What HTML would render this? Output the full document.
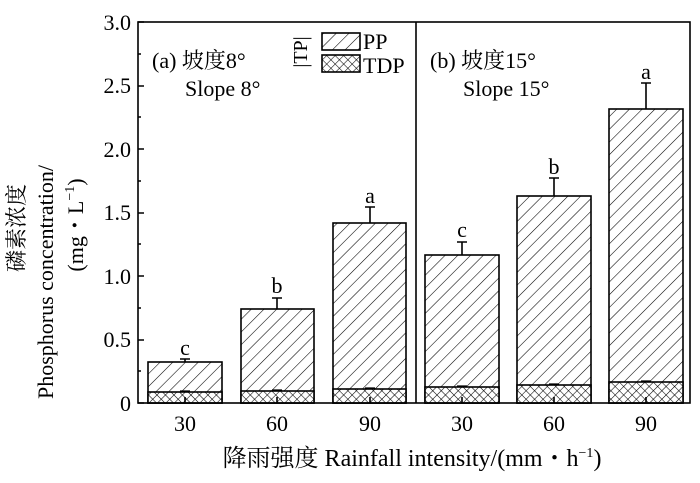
<!DOCTYPE html>
<html><head><meta charset="utf-8"><style>body{margin:0;background:#fff}</style></head><body>
<svg width="700" height="478" xmlns="http://www.w3.org/2000/svg" font-family="'Liberation Serif','Noto Serif CJK SC',serif">
<defs>
<pattern id="hd" patternUnits="userSpaceOnUse" width="9" height="9" patternTransform="rotate(45)">
<rect width="9" height="9" fill="#fff"/><line x1="0" y1="0" x2="0" y2="9" stroke="#000" stroke-width="1.1"/></pattern>
<pattern id="xh" patternUnits="userSpaceOnUse" width="6" height="6" patternTransform="rotate(45)">
<rect width="6" height="6" fill="#fff"/><line x1="0" y1="0" x2="0" y2="6" stroke="#000" stroke-width="1.1"/><line x1="0" y1="0" x2="6" y2="0" stroke="#000" stroke-width="1.1"/></pattern>
</defs>
<g stroke="#000" stroke-width="1.6">
<rect x="148" y="362" width="74" height="41" fill="url(#hd)"/><rect x="148" y="392" width="74" height="11" fill="url(#xh)"/>
<rect x="241" y="309" width="73" height="94" fill="url(#hd)"/><rect x="241" y="391" width="73" height="12" fill="url(#xh)"/>
<rect x="333" y="223" width="73" height="180" fill="url(#hd)"/><rect x="333" y="389" width="73" height="14" fill="url(#xh)"/>
<rect x="425" y="255" width="74" height="148" fill="url(#hd)"/><rect x="425" y="387" width="74" height="16" fill="url(#xh)"/>
<rect x="517" y="196" width="74" height="207" fill="url(#hd)"/><rect x="517" y="385" width="74" height="18" fill="url(#xh)"/>
<rect x="609" y="109" width="74" height="294" fill="url(#hd)"/><rect x="609" y="382" width="74" height="21" fill="url(#xh)"/>
<path d="M185 362V359M180 359H190M277 309V298M272 298H282M370 223V207M365 207H375M462 255V242M457 242H467M554 196V178M549 178H559M646 109V83M641 83H651" fill="none"/>
<path d="M180 391H190M272 390H282M365 388H375M457 386H467M549 384H559M641 381H651" fill="none" stroke-width="1.2"/>
<rect x="138" y="22" width="552" height="381" fill="none"/>
<line x1="416" y1="22" x2="416" y2="403"/>
<path d="M138 403H144M138 371H141M138 340H144M138 308H141M138 276H144M138 244H141M138 213H144M138 181H141M138 149H144M138 117H141M138 86H144M138 54H141M138 22H144" fill="none"/>
<path d="M185 403V397M277 403V397M370 403V397M462 403V397M554 403V397M646 403V397" fill="none"/>
<rect x="322" y="33" width="38" height="17" fill="url(#hd)"/>
<rect x="322" y="55" width="38" height="17" fill="url(#xh)"/>
</g>
<g font-size="22" text-anchor="end">
<text x="131" y="30">3.0</text><text x="131" y="93">2.5</text><text x="131" y="157">2.0</text>
<text x="131" y="220">1.5</text><text x="131" y="284">1.0</text><text x="131" y="347">0.5</text><text x="131" y="411">0</text>
</g>
<g font-size="22" text-anchor="middle">
<text x="185" y="431">30</text><text x="277" y="431">60</text><text x="370" y="431">90</text>
<text x="462" y="431">30</text><text x="554" y="431">60</text><text x="646" y="431">90</text>
<text x="185" y="355">c</text><text x="277" y="293">b</text><text x="370" y="203">a</text>
<text x="462" y="237">c</text><text x="554" y="174">b</text><text x="646" y="79">a</text>
</g>
<text x="412" y="466" font-size="24" text-anchor="middle">降雨强度 Rainfall intensity/(mm・h<tspan font-size="14" dy="-9">−1</tspan><tspan dy="9">)</tspan></text>
<g font-size="22">
<text x="152" y="68">(a) 坡度8°</text><text x="185" y="96">Slope 8°</text>
<text x="430" y="68">(b) 坡度15°</text><text x="463" y="96">Slope 15°</text>
<text x="363" y="49">PP</text><text x="363" y="73">TDP</text>
<text transform="translate(307,52) rotate(-90)" text-anchor="middle" font-size="20">|TP|</text>
</g>
<g font-size="22" text-anchor="middle">
<text transform="translate(24,228) rotate(-90)">磷素浓度</text>
<text transform="translate(53,282) rotate(-90)">Phosphorus concentration/</text>
<text transform="translate(83,225) rotate(-90)">(mg・L<tspan font-size="14" dy="-9">−1</tspan><tspan dy="9">)</tspan></text>
</g>
</svg>
</body></html>
